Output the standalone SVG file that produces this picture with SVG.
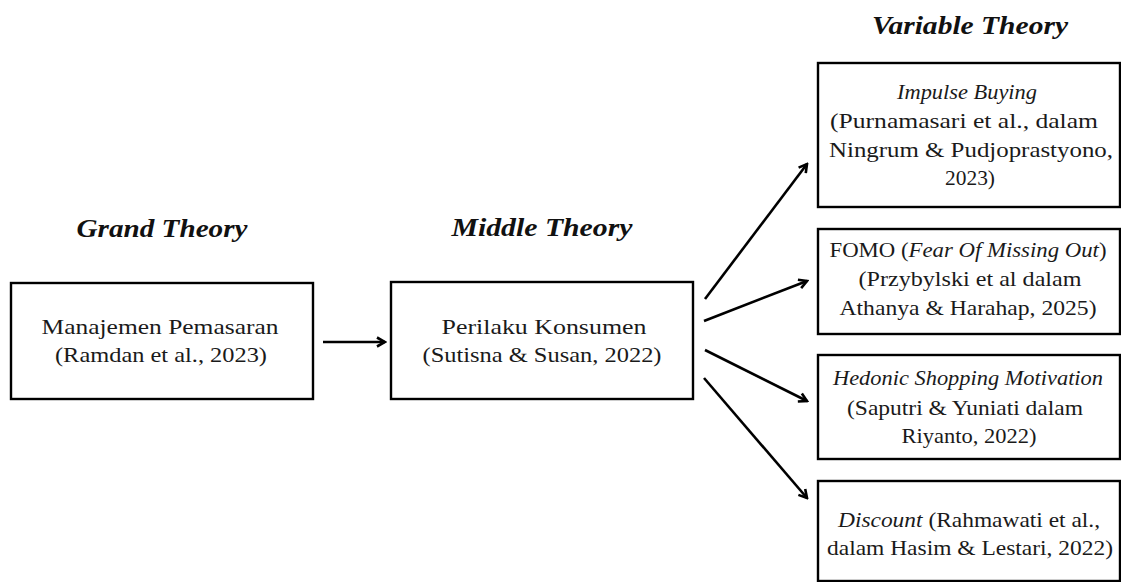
<svg xmlns="http://www.w3.org/2000/svg" width="1121" height="582" viewBox="0 0 1121 582">
<style>
.box{fill:#fff;stroke:#000;stroke-width:2.4}
.t{font-family:"Liberation Serif","DejaVu Serif",serif;font-size:22px;fill:#1a1a1a;text-anchor:middle}
.h{font-family:"Liberation Serif","DejaVu Serif",serif;font-size:25px;font-weight:bold;font-style:italic;fill:#111;text-anchor:middle}
.i{font-style:italic}
.c{stroke:#000;stroke-width:2.6;fill:none;marker-end:url(#ah)}
</style>
<defs>
<marker id="ah" viewBox="0 0 12 12" refX="10" refY="6" markerWidth="12" markerHeight="12" markerUnits="userSpaceOnUse" orient="auto">
<path d="M2,1.5 L10,6 L2,10.5" fill="none" stroke="#000" stroke-width="2.6" stroke-linejoin="miter"/>
</marker>
</defs>
<rect width="1121" height="582" fill="#fff"/>
<text class="h" x="162" y="237" textLength="171" lengthAdjust="spacingAndGlyphs">Grand Theory</text>
<text class="h" x="542" y="236" textLength="181" lengthAdjust="spacingAndGlyphs">Middle Theory</text>
<text class="h" x="970" y="34" textLength="196" lengthAdjust="spacingAndGlyphs">Variable Theory</text>
<g id="grand">
<rect class="box" x="11" y="283" width="302" height="116"/>
<text class="t" x="160" y="334" textLength="237" lengthAdjust="spacingAndGlyphs">Manajemen Pemasaran</text>
<text class="t" x="161" y="362" textLength="212" lengthAdjust="spacingAndGlyphs">(Ramdan et al., 2023)</text>
</g>
<g id="middle">
<rect class="box" x="391" y="282" width="302" height="117"/>
<text class="t" x="544" y="334" textLength="205" lengthAdjust="spacingAndGlyphs">Perilaku Konsumen</text>
<text class="t" x="542" y="362" textLength="239" lengthAdjust="spacingAndGlyphs">(Sutisna &amp; Susan, 2022)</text>
</g>
<g id="impulse">
<rect class="box" x="818" y="63" width="302" height="144"/>
<text class="t" x="967" y="99" textLength="140" lengthAdjust="spacingAndGlyphs"><tspan class="i">Impulse Buying</tspan></text>
<text class="t" x="964" y="128" textLength="268" lengthAdjust="spacingAndGlyphs">(Purnamasari et al., dalam</text>
<text class="t" x="971" y="157" textLength="284" lengthAdjust="spacingAndGlyphs">Ningrum &amp; Pudjoprastyono,</text>
<text class="t" x="970" y="185" textLength="50" lengthAdjust="spacingAndGlyphs">2023)</text>
</g>
<g id="fomo">
<rect class="box" x="818" y="229" width="302" height="105"/>
<text class="t" x="968" y="257" textLength="277" lengthAdjust="spacingAndGlyphs">FOMO (<tspan class="i">Fear Of Missing Out</tspan>)</text>
<text class="t" x="970" y="286" textLength="223" lengthAdjust="spacingAndGlyphs">(Przybylski et al dalam</text>
<text class="t" x="968" y="315" textLength="257" lengthAdjust="spacingAndGlyphs">Athanya &amp; Harahap, 2025)</text>
</g>
<g id="hedonic">
<rect class="box" x="818" y="355" width="302" height="104"/>
<text class="t" x="968" y="385" textLength="270" lengthAdjust="spacingAndGlyphs"><tspan class="i">Hedonic Shopping Motivation</tspan></text>
<text class="t" x="965" y="415" textLength="236" lengthAdjust="spacingAndGlyphs">(Saputri &amp; Yuniati dalam</text>
<text class="t" x="969" y="443" textLength="135" lengthAdjust="spacingAndGlyphs">Riyanto, 2022)</text>
</g>
<g id="discount">
<rect class="box" x="818" y="481" width="302" height="100"/>
<text class="t" x="969" y="527" textLength="262" lengthAdjust="spacingAndGlyphs"><tspan class="i">Discount</tspan> (Rahmawati et al.,</text>
<text class="t" x="970" y="555" textLength="286" lengthAdjust="spacingAndGlyphs">dalam Hasim &amp; Lestari, 2022)</text>
</g>
<g id="connectors">
<line class="c" x1="323" y1="342" x2="385" y2="342"/>
<line class="c" x1="705" y1="299" x2="807" y2="164"/>
<line class="c" x1="704" y1="321" x2="807" y2="281"/>
<line class="c" x1="705" y1="350" x2="807" y2="401"/>
<line class="c" x1="704" y1="378" x2="807" y2="498"/>
</g>
</svg>
